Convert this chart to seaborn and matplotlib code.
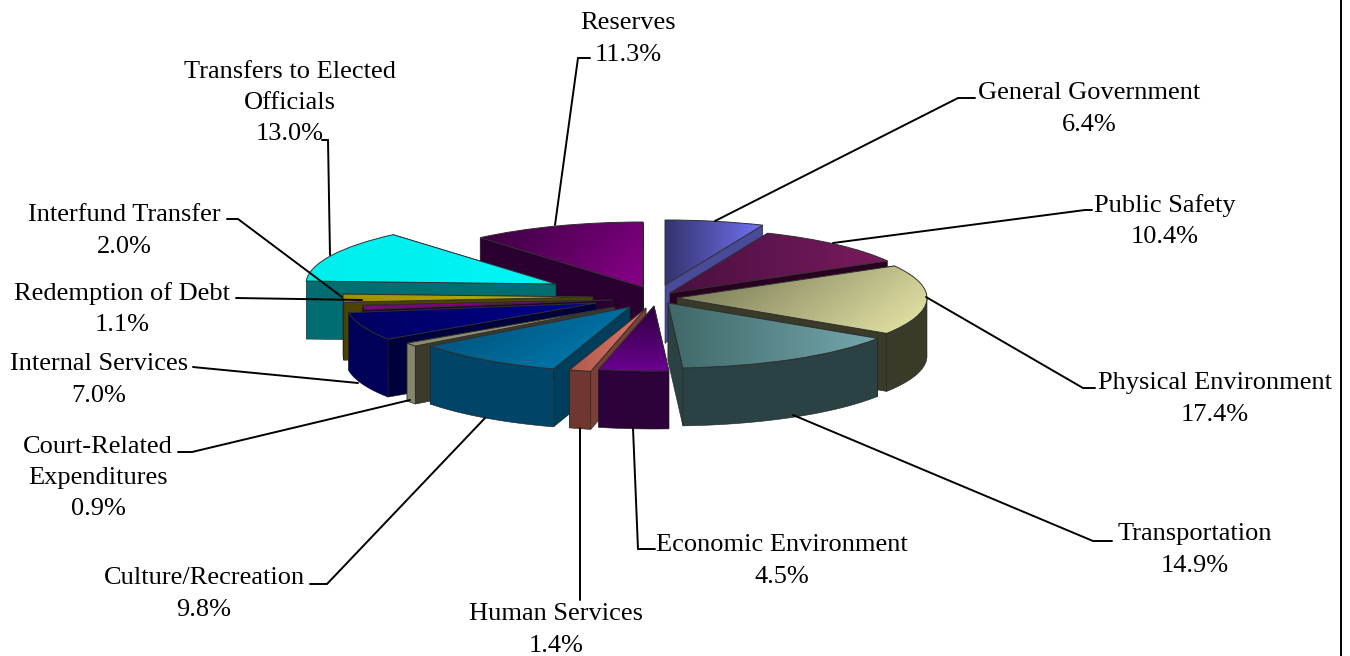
import numpy as np
import matplotlib
matplotlib.use("Agg")
import matplotlib.pyplot as plt
import seaborn as sns
from matplotlib.patches import Polygon
from matplotlib.transforms import Affine2D

categories = ["General Government", "Public Safety", "Physical Environment", "Transportation",
              "Economic Environment", "Human Services", "Culture/Recreation",
              "Court-Related\nExpenditures", "Internal Services", "Redemption of Debt",
              "Interfund Transfer", "Transfers to Elected\nOfficials", "Reserves"]
shares = [6.4, 10.4, 17.4, 14.9, 4.5, 1.4, 9.8, 0.9, 7.0, 1.1, 2.0, 13.0, 11.3]

# slice styling: dark and light end of the top gradient, gradient angle, rim and wall colours
top_lo = ["#34346e", "#4a1040", "#6e6e50", "#406868", "#2e003e", "#b05a4c", "#004a70",
          "#8a8a6c", "#000060", "#800080", "#a09000", "#00eeee", "#38003e"]
top_hi = ["#7272f4", "#7a1a5e", "#e8e8a8", "#74a8ae", "#6a0090", "#e0786a", "#0080b8",
          "#a0a080", "#000090", "#800080", "#c4b400", "#00f4f4", "#880088"]
grad_angle = [0, 0, 20, 0, 90, 0, 30, 0, 0, 0, 0, 0, 20]
rim_color = ["#3c3c7a", "#2a0020", "#3a3a28", "#2a4244", "#2c0038", "#6e3830", "#004468",
             "#86866c", "#000058", "#2a0030", "#4a4400", "#006e70", "#2a0030"]
wall_color = ["#4a4a9a", "#2a0020", "#3a3a28", "#2a4244", "#2c0038", "#7a4038", "#003e5c",
              "#3c3a2a", "#00003c", "#2a0030", "#4a4400", "#006e70", "#2a0030"]

# layout in pixels of the 1350x656 canvas
RADIUS = 250
SQUASH = 0.26
DEPTH = 58
apex_x = [665, 670, 677, 668, 654, 646, 630, 615, 596, 612, 593, 556, 643]
apex_y = [285, 293, 298, 303, 306, 308, 307, 307, 303, 300, 297, 284, 287]
draw_order = [12, 0, 1, 11, 10, 9, 8, 2, 7, 6, 5, 4, 3]

label_xy = [(1089, 109), (1165, 221), (1215, 399), (1195, 550), (782, 561), (556, 630),
            (204, 594), (98, 478), (99, 380), (122, 309), (124, 231), (290, 103), (628, 39)]
leaders = [
    [(715, 221), (958, 98), (975, 98)],
    [(833, 243), (1085, 210), (1092, 210)],
    [(926, 297), (1083, 388), (1095, 388)],
    [(793, 415), (1093, 541), (1112, 541)],
    [(633, 428), (638, 549), (655, 549)],
    [(580, 428), (580, 600)],
    [(485, 418), (327, 584), (310, 584)],
    [(410, 400), (192, 452), (178, 452)],
    [(358, 383), (203, 368), (193, 367)],
    [(362, 300), (236, 298)],
    [(342, 297), (238, 219), (227, 219)],
    [(330, 255), (328, 140), (322, 140)],
    [(555, 225), (578, 58), (590, 58)],
]

sns.set_style("white")
plt.rcParams["font.family"] = ["Liberation Serif", "DejaVu Serif"]

fig = plt.figure(figsize=(13.5, 6.56), dpi=100)
ax = fig.add_axes([0, 0, 1, 1])
wedges, _ = ax.pie(shares, startangle=90, counterclock=False, radius=RADIUS,
                   wedgeprops=dict(facecolor="none", edgecolor="#303030", linewidth=0.7))
ax.set_aspect("auto")


def to_canvas(i, theta, r=RADIUS, drop=0):
    # local pie coordinates -> canvas pixels for slice i
    t = np.radians(theta)
    return np.column_stack([apex_x[i] + r * np.cos(t),
                            apex_y[i] - SQUASH * r * np.sin(t) + drop])


z = 2
for i in draw_order:
    w = wedges[i]
    t1, t2 = w.theta1, w.theta2
    arc = np.linspace(t1, t2, 80)
    top_rim = to_canvas(i, arc)

    # walls first, the back one before the front one
    ends = sorted([t1, t2], key=lambda t: -np.sin(np.radians(t)))
    for t in ends:
        p = to_canvas(i, t)[0]
        wall = [(apex_x[i], apex_y[i]), p, (p[0], p[1] + DEPTH), (apex_x[i], apex_y[i] + DEPTH)]
        ax.add_patch(Polygon(wall, closed=True, facecolor=wall_color[i], edgecolor="#202020",
                             linewidth=0.4, zorder=z))
        z += 1

    # curved side, only the part that faces the viewer
    front = arc[np.sin(np.radians(arc)) < 0]
    if len(front) > 1:
        side = np.vstack([to_canvas(i, front), to_canvas(i, front, drop=DEPTH)[::-1]])
        ax.add_patch(Polygon(side, closed=True, facecolor=rim_color[i], edgecolor="#202020",
                             linewidth=0.4, zorder=z))
        z += 1

    # top face with a gradient clipped to the wedge
    w.set_transform(Affine2D().scale(1, -SQUASH).translate(apex_x[i], apex_y[i]) + ax.transData)
    xs = np.append(top_rim[:, 0], apex_x[i])
    ys = np.append(top_rim[:, 1], apex_y[i])
    gx, gy = np.meshgrid(np.linspace(0, 1, 128), np.linspace(0, 1, 64))
    a = np.radians(grad_angle[i])
    grad = np.cos(a) * gx + np.sin(a) * gy
    cmap = sns.blend_palette([top_lo[i], top_hi[i]], as_cmap=True)
    im = ax.imshow(grad, extent=(xs.min(), xs.max(), ys.min(), ys.max()), origin="lower",
                   cmap=cmap, aspect="auto", zorder=z)
    im.set_clip_path(w)
    z += 1
    w.set_zorder(z)
    z += 1

ax.set_xlim(0, 1350)
ax.set_ylim(656, 0)
ax.set_aspect("auto")

for path in leaders:
    ax.plot([p[0] for p in path], [p[1] for p in path], color="black", lw=1.4,
            solid_joinstyle="miter", zorder=z)

for name, val, (x, y) in zip(categories, shares, label_xy):
    ax.text(x, y, f"{name}\n{val:.1f}%", ha="center", va="center", fontsize=19,
            linespacing=1.55, color="black", zorder=z + 1)

ax.axvline(1341, color="black", lw=1.4, zorder=z)
ax.axis("off")

fig.savefig("out.png", dpi=100, facecolor="white")
